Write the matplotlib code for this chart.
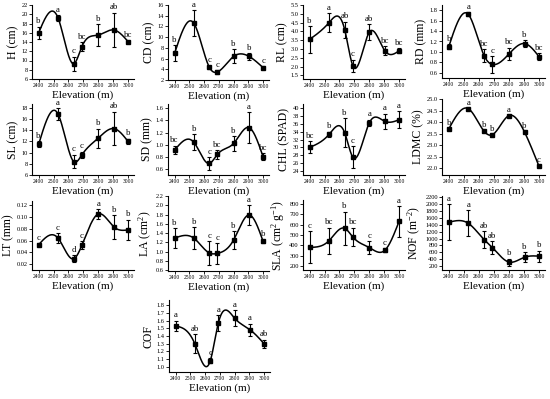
import numpy as np
import matplotlib
matplotlib.use("Agg")
import matplotlib.pyplot as plt

# ================= Data ================= #
elev = [2400, 2530, 2635, 2690, 2800, 2905, 3000]

h_mean = [16.0, 19.2, 9.3, 13.0, 15.5, 16.6, 14.1]
h_err = [1.3, 0.6, 1.5, 1.0, 2.3, 3.7, 0.2]
h_sig = ["b", "a", "c", "bc", "b", "ab", "bc"]

cd_mean = [7.0, 12.6, 4.4, 3.5, 6.4, 6.4, 4.3]
cd_err = [1.5, 2.4, 0.3, 0.3, 1.3, 0.6, 0.3]
cd_sig = ["b", "a", "c", "c", "b", "b", "c"]

rl_mean = [3.55, 4.5, 4.1, 2.05, 3.95, 2.9, 2.9]
rl_err = [0.75, 0.55, 0.45, 0.35, 0.45, 0.25, 0.15]
rl_sig = ["b", "a", "ab", "c", "ab", "bc", "bc"]

rd_mean = [1.10, 1.72, 0.93, 0.76, 0.96, 1.16, 0.91]
rd_err = [0.05, 0.04, 0.12, 0.16, 0.12, 0.06, 0.06]
rd_sig = ["b", "a", "bc", "c", "bc", "b", "bc"]

sl_mean = [11.5, 16.9, 8.4, 9.6, 12.6, 14.3, 12.0]
sl_err = [0.5, 1.0, 1.2, 0.6, 1.7, 3.0, 0.5]
sl_sig = ["b", "a", "c", "c", "b", "ab", "b"]

sd_mean = [0.91, 1.04, 0.69, 0.84, 1.02, 1.28, 0.80]
sd_err = [0.07, 0.13, 0.10, 0.07, 0.12, 0.25, 0.06]
sd_sig = ["bc", "b", "c", "bc", "b", "a", "bc"]

chl_mean = [30.0, 33.3, 33.7, 27.5, 36.2, 36.6, 37.0]
chl_err = [1.5, 0.7, 3.7, 2.8, 0.8, 1.9, 2.2]
chl_sig = ["bc", "b", "b", "c", "a", "a", "a"]

ldmc_mean = [23.70, 24.58, 23.60, 23.45, 24.28, 23.55, 22.08]
ldmc_err = [0.02, 0.03, 0.03, 0.02, 0.03, 0.03, 0.02]
ldmc_sig = ["b", "a", "b", "b", "a", "b", "c"]

lt_mean = [0.053, 0.064, 0.029, 0.052, 0.105, 0.083, 0.078]
lt_err = [0.002, 0.008, 0.006, 0.007, 0.008, 0.020, 0.017]
lt_sig = ["c", "c", "d", "c", "a", "b", "b"]

la_mean = [1.29, 1.29, 0.97, 0.96, 1.25, 1.79, 1.22]
la_err = [0.21, 0.24, 0.25, 0.22, 0.19, 0.21, 0.04]
la_sig = ["b", "b", "c", "c", "b", "a", "b"]

sla_mean = [380, 445, 565, 480, 378, 352, 632]
sla_err = [155, 125, 160, 90, 60, 20, 150]
sla_sig = ["c", "bc", "b", "bc", "c", "c", "a"]

nof_mean = [1470, 1440, 970, 740, 320, 460, 490]
nof_err = [520, 380, 250, 180, 100, 150, 160]
nof_sig = ["a", "a", "ab", "ab", "b", "b", "b"]

cof_mean = [1.53, 1.30, 1.08, 1.57, 1.63, 1.48, 1.30]
cof_err = [0.07, 0.12, 0.03, 0.10, 0.10, 0.08, 0.05]
cof_sig = ["a", "ab", "c", "a", "a", "a", "ab"]

# ================= Panel settings ================= #
# (label, mean, err, letters, rect in px (left, top, right, bottom), ylim, ytick step)
panels = [
    ("H (cm)", h_mean, h_err, h_sig, (32, 5, 134, 79), (6, 22), 2),
    ("CD (cm)", cd_mean, cd_err, cd_sig, (168, 5, 269, 80), (2, 16), 2),
    ("RL (cm)", rl_mean, rl_err, rl_sig, (303, 5, 405, 79), (1.3, 5.5), 0.5),
    ("RD (mm)", rd_mean, rd_err, rd_sig, (442, 5, 545, 78), (0.5, 1.9), 0.2),
    ("SL (cm)", sl_mean, sl_err, sl_sig, (32, 104, 134, 175), (6, 18.7), 2),
    ("SD (mm)", sd_mean, sd_err, sd_sig, (168, 104, 269, 175), (0.5, 1.67), 0.2),
    ("CHL (SPAD)", chl_mean, chl_err, chl_sig, (303, 104, 405, 175), (23, 41), 2),
    ("LDMC (%)", ldmc_mean, ldmc_err, ldmc_sig, (442, 99, 545, 175), (21.7, 25.0), 0.5),
    ("LT (mm)", lt_mean, lt_err, lt_sig, (32, 201, 134, 270), (0.01, 0.127), 0.02),
    ("LA (cm$^{2}$)", la_mean, la_err, la_sig, (168, 196, 269, 271), (0.58, 2.2), 0.2),
    ("SLA (cm$^{2}$ g$^{-1}$)", sla_mean, sla_err, sla_sig, (303, 200, 405, 270), (160, 840), 100),
    ("NOF (m$^{-2}$)", nof_mean, nof_err, nof_sig, (442, 196, 545, 270), (90, 2230), 200),
    ("COF", cof_mean, cof_err, cof_sig, (169, 300, 270, 372), (0.935, 1.865), 0.1),
]

W, H = 550, 399


# ================= Local functions ================= #
def naturalSpline(x, y, n=300):
    # natural cubic spline through the points (Origin "spline" connection)
    x = np.asarray(x, float)
    y = np.asarray(y, float)
    k = len(x)
    h = np.diff(x)
    A = np.zeros((k, k))
    r = np.zeros(k)
    A[0, 0] = 1
    A[-1, -1] = 1
    for i in range(1, k - 1):
        A[i, i - 1] = h[i - 1]
        A[i, i] = 2 * (h[i - 1] + h[i])
        A[i, i + 1] = h[i]
        r[i] = 6 * ((y[i + 1] - y[i]) / h[i] - (y[i] - y[i - 1]) / h[i - 1])
    M = np.linalg.solve(A, r)
    xs = np.linspace(x[0], x[-1], n)
    idx = np.clip(np.searchsorted(x, xs) - 1, 0, k - 2)
    x0, x1 = x[idx], x[idx + 1]
    hh = x1 - x0
    a = (x1 - xs) / hh
    b = (xs - x0) / hh
    ys = (a * y[idx] + b * y[idx + 1]
          + ((a ** 3 - a) * M[idx] + (b ** 3 - b) * M[idx + 1]) * hh ** 2 / 6)
    return xs, ys


def fmtTick(v, step):
    if step >= 1:
        return "%d" % round(v)
    if step >= 0.1:
        return "%.1f" % v
    return "%.2f" % v


# ================= Plot ================= #
plt.rcParams.update({'font.family': 'Liberation Serif',
                     'mathtext.fontset': 'custom',
                     'mathtext.rm': 'Liberation Serif',
                     'mathtext.it': 'Liberation Serif:italic',
                     'axes.linewidth': 0.8})

fig = plt.figure(figsize=(5.5, 3.99), dpi=100)

for label, mean, err, sig, (l, t, r, b), ylim, step in panels:
    ax = fig.add_axes([l / W, 1 - b / H, (r - l) / W, (b - t) / H])
    xs, ys = naturalSpline(elev, mean)
    ax.plot(xs, ys, color='black', linewidth=1.1)
    ax.errorbar(elev, mean, yerr=err, fmt='s', color='black', markersize=2.2,
                elinewidth=0.8, capsize=1.6, capthick=0.8)
    for x, m, e, s in zip(elev, mean, err, sig):
        ax.annotate(s, (x, m + e), xytext=(0, 1.0), textcoords='offset points',
                    ha='center', va='bottom', fontsize=6.3)
    ax.set_xlim(2355, 3040)
    ax.set_xticks(range(2400, 3001, 100))
    ax.set_ylim(*ylim)
    first = np.ceil(ylim[0] / step - 1e-6) * step
    yt = np.arange(first, ylim[1] + step * 1e-3, step)
    ax.set_yticks(yt)
    ax.set_yticklabels([fmtTick(v, step) for v in yt])
    ax.spines['top'].set_visible(False)
    ax.spines['right'].set_visible(False)
    ax.tick_params(axis='both', direction='out', length=2, width=0.6, pad=1)
    ax.tick_params(axis='x', labelsize=4.0)
    ax.tick_params(axis='y', labelsize=4.6)
    ax.set_xlabel("Elevation (m)", fontsize=8.0, labelpad=1.5)
    ax.set_ylabel(label, fontsize=8.5, labelpad=1.5)

fig.savefig("out.png", dpi=100)
